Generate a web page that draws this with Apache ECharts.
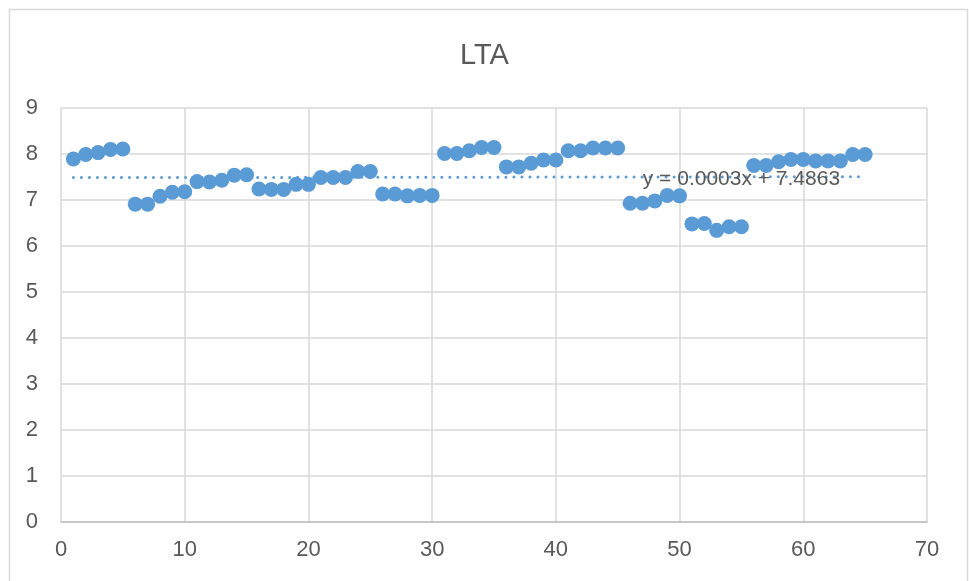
<!DOCTYPE html>
<html>
<head>
<meta charset="utf-8">
<script src="https://cdn.jsdelivr.net/npm/echarts@6/dist/echarts.min.js"></script>
<style>
  html, body { margin: 0; padding: 0; background: #ffffff; }
  #chart { width: 969px; height: 581px; }
</style>
</head>
<body>
<div id="chart"></div>
<script>
// Sample index (x) and LTA readings (y)
const sampleIndex = [
  1, 2, 3, 4, 5, 6, 7, 8, 9, 10,
  11, 12, 13, 14, 15, 16, 17, 18, 19, 20,
  21, 22, 23, 24, 25, 26, 27, 28, 29, 30,
  31, 32, 33, 34, 35, 36, 37, 38, 39, 40,
  41, 42, 43, 44, 45, 46, 47, 48, 49, 50,
  51, 52, 53, 54, 55, 56, 57, 58, 59, 60,
  61, 62, 63, 64, 65
];
const ltaValues = [
  7.89, 7.99, 8.03, 8.10, 8.11, 6.91, 6.91, 7.08, 7.17, 7.18,
  7.40, 7.39, 7.43, 7.54, 7.55, 7.24, 7.23, 7.23, 7.34, 7.34,
  7.49, 7.49, 7.49, 7.62, 7.62, 7.13, 7.13, 7.09, 7.10, 7.10,
  8.01, 8.01, 8.07, 8.14, 8.14, 7.72, 7.72, 7.80, 7.87, 7.87,
  8.07, 8.07, 8.13, 8.13, 8.13, 6.93, 6.93, 6.98, 7.10, 7.09,
  6.48, 6.49, 6.34, 6.42, 6.42, 7.75, 7.75, 7.83, 7.88, 7.88,
  7.85, 7.85, 7.85, 7.99, 7.99
];

// Linear trend as given by its equation label
const trendSlope = 0.0003;
const trendIntercept = 7.4863;
const trendLabel = 'y = 0.0003x + 7.4863';

// Axis ranges and ticks
const xAxisRange = [0, 70, 10];
const yAxisRange = [0, 9, 1];
const chartTitle = 'LTA';

const points = sampleIndex.map((x, i) => [x, ltaValues[i]]);
const xFirst = sampleIndex[0];
const xLast = sampleIndex[sampleIndex.length - 1];
const trendPoints = [
  [xFirst, trendIntercept + trendSlope * xFirst],
  [xLast, trendIntercept + trendSlope * xLast]
];

const FONT = '"Liberation Sans Narrow", "Liberation Sans", sans-serif';
const TEXT = '#595959';
const GRID = '#d9d9d9';
const BLUE = '#5b9bd5';

const chart = echarts.init(document.getElementById('chart'), null, { renderer: 'canvas' });

const frame = {
  type: 'rect',
  shape: { x: 9.5, y: 9.5, width: 958, height: 600 },
  style: { fill: 'none', stroke: GRID, lineWidth: 1.5 },
  silent: true,
  z: 0
};

chart.setOption({
  backgroundColor: '#ffffff',
  animation: false,
  title: {
    text: chartTitle,
    left: 'center',
    top: 36,
    textStyle: { fontFamily: FONT, fontSize: 29, fontWeight: 'normal', color: TEXT }
  },
  grid: { left: 61, right: 42, top: 108, bottom: 59, containLabel: false },
  xAxis: {
    type: 'value',
    min: xAxisRange[0], max: xAxisRange[1], interval: xAxisRange[2],
    axisLine: { show: true, lineStyle: { color: '#bfbfbf', width: 1.5 } },
    axisTick: { show: false },
    axisLabel: { color: TEXT, fontFamily: FONT, fontSize: 22, margin: 17 },
    splitLine: { show: true, lineStyle: { color: GRID, width: 1.5 } }
  },
  yAxis: {
    type: 'value',
    min: yAxisRange[0], max: yAxisRange[1], interval: yAxisRange[2],
    axisLine: { show: false },
    axisTick: { show: false },
    axisLabel: { color: TEXT, fontFamily: FONT, fontSize: 22, margin: 23 },
    splitLine: { show: true, lineStyle: { color: GRID, width: 1.5 } }
  },
  series: [
    {
      name: 'LTA',
      type: 'scatter',
      data: points,
      symbol: 'circle',
      symbolSize: 15,
      itemStyle: { color: BLUE, opacity: 1 },
      z: 3
    },
    {
      name: 'Trend',
      type: 'line',
      data: trendPoints,
      symbol: 'none',
      lineStyle: { color: BLUE, width: 3, type: [0.01, 8], cap: 'round' },
      z: 2
    }
  ],
  graphic: [frame]
});

// Equation label placed near the right part of the trend line
const labelAnchor = chart.convertToPixel({ gridIndex: 0 }, [55, trendIntercept + trendSlope * 55]);
chart.setOption({
  graphic: [
    frame,
    {
      type: 'text',
      x: labelAnchor[0],
      y: labelAnchor[1] + 2,
      style: {
        text: trendLabel,
        fontFamily: FONT,
        fontSize: 21,
        fill: TEXT,
        align: 'center',
        verticalAlign: 'middle'
      },
      z: 10
    }
  ]
});
</script>
</body>
</html>
